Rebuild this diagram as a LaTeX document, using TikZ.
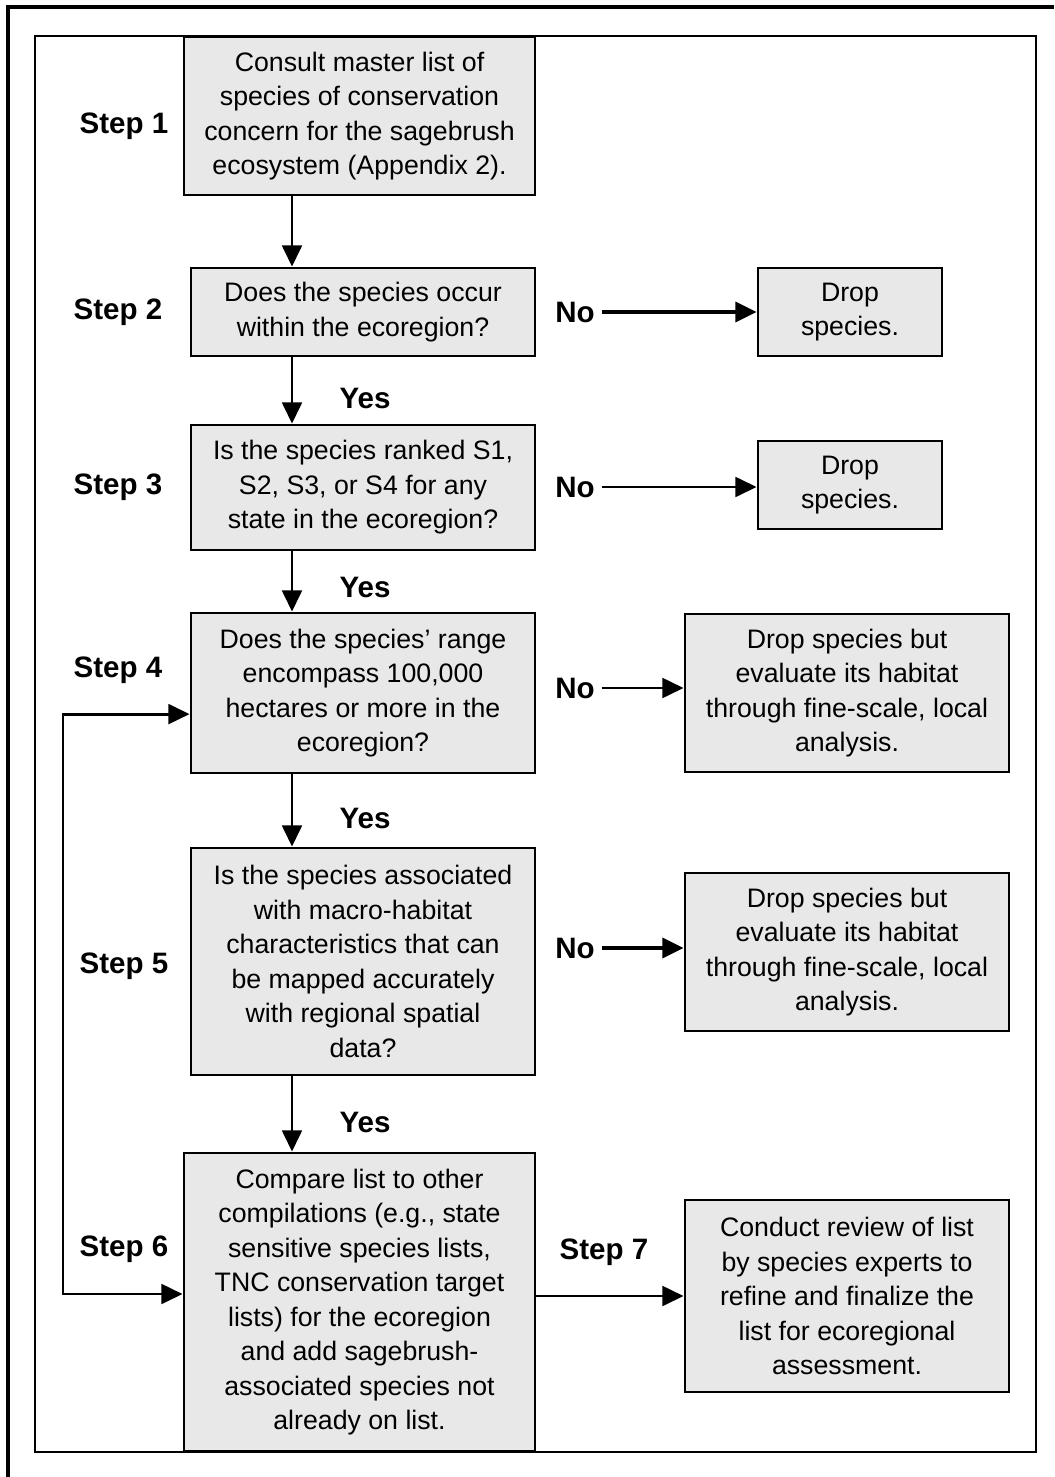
\documentclass[tikz,border=0pt]{standalone}
\usepackage{fontspec}
\setmainfont{Liberation Sans}
\usetikzlibrary{arrows.meta, positioning}
\definecolor{boxgray}{RGB}{232,232,232}
\newcommand{\boxfont}{\fontsize{19}{24.5}\selectfont}
\newcommand{\labfont}{\fontsize{21}{25}\selectfont\bfseries}

\begin{document}
\begin{tikzpicture}[x=0.025cm, y=-0.025cm, ->, >={Triangle[length=15pt,width=14pt]}, line width=2pt,
    box/.style={draw, fill=boxgray, align=center, font=\boxfont, inner sep=2pt},
    lab/.style={font=\labfont, inner sep=4pt}]
    \useasboundingbox (0,0) rectangle (1054,1477);
    % Frames
    \draw[-, line width=3pt] (8,1477) -- (8,7) -- (1054,7);
    \draw[-] (35,36) rectangle (1036,1452);
    \coordinate (spine) at (292,0);
    \coordinate (back) at (63,1294);

    % Main column
    \node[box, minimum width=8.775cm, minimum height=3.95cm] (s1) at (359.5,116)
        {Consult master list of\\species of conservation\\concern for the sagebrush\\ecosystem (Appendix 2).};
    \node[box, minimum width=8.6cm, minimum height=2.2cm] (s2) at (363,312)
        {Does the species occur\\within the ecoregion?};
    \node[box, minimum width=8.6cm, minimum height=3.125cm] (s3) at (363,487.5)
        {Is the species ranked S1,\\S2, S3, or S4 for any\\state in the ecoregion?};
    \node[box, minimum width=8.6cm, minimum height=4cm] (s4) at (363,693)
        {Does the species' range\\encompass 100,000\\hectares or more in the\\ecoregion?};
    \node[box, minimum width=8.6cm, minimum height=5.675cm] (s5) at (363,961.5)
        {Is the species associated\\with macro-habitat\\characteristics that can\\be mapped accurately\\with regional spatial\\data?};
    \node[box, minimum width=8.775cm, minimum height=7.45cm] (s6) at (359.5,1302)
        {Compare list to other\\compilations (e.g., state\\sensitive species lists,\\TNC conservation target\\lists) for the ecoregion\\and add sagebrush-\\associated species not\\already on list.};

    % Right column
    \node[box, minimum width=4.6cm, minimum height=2.2cm] (d2) at (850,312) {Drop\\species.};
    \node[box, minimum width=4.6cm, minimum height=2.2cm] (d3) at (850,485) {Drop\\species.};
    \node[box, minimum width=8.1cm, minimum height=3.95cm] (d4) at (847,693)
        {Drop species but\\evaluate its habitat\\through fine-scale, local\\analysis.};
    \node[box, minimum width=8.1cm, minimum height=3.95cm] (d5) at (847,952)
        {Drop species but\\evaluate its habitat\\through fine-scale, local\\analysis.};
    \node[box, minimum width=8.1cm, minimum height=4.8cm] (s7) at (847,1296)
        {Conduct review of list\\by species experts to\\refine and finalize the\\list for ecoregional\\assessment.};

    % Step labels
    \node[lab] (l1) at (124,126) {Step 1};
    \node[lab] (l2) at (118,312) {Step 2};
    \node[lab] (l3) at (118,487) {Step 3};
    \node[lab] (l4) at (118,670) {Step 4};
    \node[lab] (l5) at (124,966) {Step 5};
    \node[lab] (l6) at (124,1249) {Step 6};
    \node[lab] (l7) at (604,1252) {Step 7};

    % Yes / No labels
    \node[lab] (y3) at (365,398) {Yes};
    \node[lab] (y4) at (365,587) {Yes};
    \node[lab] (y5) at (365,818) {Yes};
    \node[lab] (y6) at (365,1122) {Yes};
    \node[lab] (n2) at (575,312) {No};
    \node[lab] (n3) at (575,487) {No};
    \node[lab] (n4) at (575,688) {No};
    \node[lab] (n5) at (575,948) {No};

    % Down arrows
    \draw (s1.south -| spine) -- (s2.north -| spine);
    \draw (s2.south -| spine) -- (s3.north -| spine);
    \draw (s3.south -| spine) -- (s4.north -| spine);
    \draw (s4.south -| spine) -- (s5.north -| spine);
    \draw (s5.south -| spine) -- (s6.north -| spine);

    % No arrows
    \draw[line width=3pt] (n2.east) -- (n2.east -| d2.west);
    \draw (n3.east) -- (n3.east -| d3.west);
    \draw (n4.east) -- (n4.east -| d4.west);
    \draw[line width=3pt] (n5.east) -- (n5.east -| d5.west);

    % Step 7 and loop back
    \draw (s7.west -| s6.east) -- (s7.west);
    \draw[<->] ([yshift=-15pt]s4.west) -| (back) -- (back -| s6.west);
\end{tikzpicture}
\end{document}
